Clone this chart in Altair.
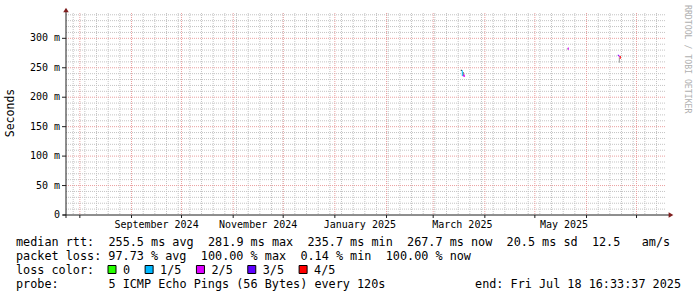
import re
import altair as alt
import pandas as pd

# ------------------------------------------------------------------ data
END = "2025-07-18T16:33:37"
SPAN_DAYS = 360

# smoke (spread of the ping round-trip times), one pixel column per step
smoke_time = ["2025-03-17T13:40:00", "2025-03-18T18:30:00", "2025-05-20T04:00:00", "2025-06-20T09:00:00"]
smoke_low = [244.5, 236.0, 281.0, 258.5]
smoke_high = [246.5, 243.0, 283.5, 267.5]
smoke_shade = ["#202020", "#6e6e6e", "#a8a8a8", "#9a9a9a"]

# median rtt, coloured by packet loss
median_time = ["2025-03-18T04:00:00", "2025-03-18T18:30:00", "2025-03-19T09:00:00",
               "2025-05-20T18:30:00",
               "2025-06-19T18:30:00", "2025-06-20T09:00:00", "2025-06-20T23:20:00"]
median_low = [236.0, 235.0, 234.5, 280.5, 270.0, 268.0, 265.5]
median_high = [246.0, 237.5, 238.5, 284.5, 272.0, 271.0, 270.0]
median_loss = ["1/5", "2/5", "2/5", "2/5", "3/5", "2/5", "4/5"]

loss_labels = ["0", "1/5", "2/5", "3/5", "4/5"]
loss_colors = ["#26ff00", "#00b8ff", "#dd00ff", "#5e00ff", "#ff0000"]

y_ticks = [0, 50, 100, 150, 200, 250, 300]
month_labels = ["2024-09-16T00:00:00", "2024-11-16T00:00:00", "2025-01-16T00:00:00",
                "2025-03-18T12:00:00", "2025-05-18T12:00:00"]

rtt_stats = ["255.5 ms avg", "281.9 ms max", "235.7 ms min", "267.7 ms now", "20.5 ms sd", "12.5   am/s"]
loss_stats = ["97.73 % avg", "100.00 % max", "0.14 % min", "100.00 % now"]
probe_text = "5 ICMP Echo Pings (56 Bytes) every 120s"
end_text = "end: Fri Jul 18 16:33:37 2025"
y_title = "Seconds"
watermark = "RRDTOOL / TOBI OETIKER"

# ------------------------------------------------------------------ layout
W, H = 600, 202
PAD = {"left": 66, "top": 13, "right": 31, "bottom": 82}
YMAX = 343
MONO = "DejaVu Sans Mono"
CHAR_W = 7.11
TEXT_X0 = 16 - PAD["left"]
ROW_Y0 = 241.5 - PAD["top"]
ROW_DY = 14
GRID = "#c4c4c4"
MGRID = "#eaa0a0"
AXIS = "#1f1f1f"
ARROW = "#7f1f1f"
FMT = "%Y-%m-%dT%H:%M:%S"

end_ts = pd.Timestamp(END)
start_ts = end_ts - pd.Timedelta(days=SPAN_DAYS)
step = pd.Timedelta(days=SPAN_DAYS) / W


def dt(t):
    return alt.DateTime(year=t.year, month=t.month, date=t.day,
                        hours=t.hour, minutes=t.minute, seconds=t.second)


x_scale = alt.Scale(domain=[dt(start_ts), dt(end_ts)])
y_scale = alt.Scale(domain=[0, YMAX], nice=False)


def X(f):
    return alt.X(f, type="temporal", scale=x_scale, axis=None)


def Y(f):
    return alt.Y(f, type="quantitative", scale=y_scale, axis=None)


def cells(times, lo, hi, extra_name, extra):
    t0 = pd.to_datetime(pd.Series(times))
    return pd.DataFrame({
        "t0": t0.dt.strftime(FMT),
        "t1": (t0 + step).dt.strftime(FMT),
        "lo": lo, "hi": hi, extra_name: extra,
    })


weeks = pd.date_range("2024-07-28", end_ts, freq="7D")
weeks = weeks[weeks > start_ts]
months = pd.date_range("2024-08-01", end_ts, freq="MS")
df_weeks = pd.DataFrame({"t": weeks.strftime(FMT)})
df_months = pd.DataFrame({"t": months.strftime(FMT)})
df_hminor = pd.DataFrame({"v": [v for v in range(10, YMAX, 10) if v % 50]})
df_hmajor = pd.DataFrame({"v": list(range(50, YMAX, 50))})
df_yt = pd.DataFrame({"v": y_ticks})
df_yt["lab"] = [("0" if v == 0 else f"{v} m") for v in y_ticks]
df_ml = pd.DataFrame({"t": month_labels})

one = pd.DataFrame({"a": [0]})

layers = []
# grid
layers.append(alt.Chart(df_weeks).mark_rule(color=GRID, strokeDash=[1, 1], strokeWidth=1)
              .encode(x=X("t"), y=alt.value(0), y2=alt.value(H)))
layers.append(alt.Chart(df_hminor).mark_rule(color=GRID, strokeDash=[1, 1], strokeWidth=1)
              .encode(y=Y("v"), x=alt.value(0), x2=alt.value(W)))
layers.append(alt.Chart(df_months).mark_rule(color=MGRID, strokeDash=[1, 1], strokeWidth=1)
              .encode(x=X("t"), y=alt.value(0), y2=alt.value(H)))
layers.append(alt.Chart(df_hmajor).mark_rule(color=MGRID, strokeDash=[1, 1], strokeWidth=1)
              .encode(y=Y("v"), x=alt.value(0), x2=alt.value(W)))

# data
layers.append(alt.Chart(cells(smoke_time, smoke_low, smoke_high, "shade", smoke_shade)).mark_rect()
              .encode(x=X("t0"), x2="t1:T", y=Y("lo"), y2="hi:Q",
                      color=alt.Color("shade:N", scale=None)))
layers.append(alt.Chart(cells(median_time, median_low, median_high, "loss", median_loss)).mark_rect()
              .encode(x=X("t0"), x2="t1:T", y=Y("lo"), y2="hi:Q",
                      color=alt.Color("loss:N", scale=alt.Scale(domain=loss_labels, range=loss_colors),
                                      legend=None)))

# axes
layers.append(alt.Chart(one).mark_rule(color=AXIS, strokeWidth=1)
              .encode(x=alt.value(0), y=alt.value(-4), y2=alt.value(H + 3)))
layers.append(alt.Chart(one).mark_rule(color=AXIS, strokeWidth=1)
              .encode(y=alt.value(H), x=alt.value(-3), x2=alt.value(W + 3)))
layers.append(alt.Chart(df_yt).mark_rule(color=AXIS, strokeWidth=1)
              .encode(y=Y("v"), x=alt.value(-4), x2=alt.value(0)))
layers.append(alt.Chart(df_months).mark_rule(color=AXIS, strokeWidth=1)
              .encode(x=X("t"), y=alt.value(H), y2=alt.value(H + 3)))
layers.append(alt.Chart(one).mark_point(shape="triangle-right", filled=True, size=30, color=ARROW, opacity=1)
              .encode(x=alt.value(W + 5), y=alt.value(H)))
layers.append(alt.Chart(one).mark_point(shape="triangle-up", filled=True, size=30, color=ARROW, opacity=1)
              .encode(x=alt.value(0), y=alt.value(-3)))

# tick labels
layers.append(alt.Chart(df_yt).mark_text(font=MONO, fontSize=10, align="right", baseline="middle", color="#000")
              .encode(y=Y("v"), x=alt.value(-6), text="lab:N"))
layers.append(alt.Chart(df_ml).mark_text(font=MONO, fontSize=10, align="center", baseline="middle", color="#000")
              .encode(x=X("t"), y=alt.value(H + 10), text=alt.Text("t:T", format="%B %Y")))

# titles
layers.append(alt.Chart(one).mark_text(font=MONO, fontSize=11.5, angle=270, align="center",
                                       baseline="middle", color="#000", text=y_title)
              .encode(x=alt.value(11 - PAD["left"]), y=alt.value(113 - PAD["top"])))
layers.append(alt.Chart(one).mark_text(font=MONO, fontSize=8.2, angle=90, align="left",
                                       baseline="middle", color="#b0b0b0", text=watermark)
              .encode(x=alt.value(687 - PAD["left"]), y=alt.value(5 - PAD["top"])))

# bottom legend text, one item per run of words (keeps monospace columns)
lines = [
    "median rtt:  " + "  ".join(rtt_stats),
    "packet loss: " + "  ".join(loss_stats),
    "loss color:",
    "probe:       " + probe_text,
]
rows = []
for i, line in enumerate(lines):
    for m in re.finditer(r"\S+(?: \S+)*", line):
        rows.append({"txt": m.group(0), "px": TEXT_X0 + m.start() * CHAR_W, "py": ROW_Y0 + i * ROW_DY})
df_txt = pd.DataFrame(rows)
layers.append(alt.Chart(df_txt).mark_text(font=MONO, fontSize=11.8, align="left", baseline="middle", color="#000")
              .encode(x=alt.X("px:Q", scale=None), y=alt.Y("py:Q", scale=None), text="txt:N"))
layers.append(alt.Chart(one).mark_text(font=MONO, fontSize=11.8, align="right", baseline="middle",
                                       color="#000", text=end_text)
              .encode(x=alt.value(681 - PAD["left"]), y=alt.value(ROW_Y0 + 3 * ROW_DY)))

# loss colour legend
bx, tx = [], []
x = 108 - PAD["left"]
for lab in loss_labels:
    bx.append(x)
    tx.append(x + 15)
    x = x + 15.5 + len(lab) * CHAR_W + 14.5
df_leg = pd.DataFrame({"lab": loss_labels, "col": loss_colors, "bx": bx, "tx": tx})
df_leg["bx2"] = df_leg["bx"] + 8
df_leg["by"] = ROW_Y0 + 2 * ROW_DY - 4
df_leg["by2"] = ROW_Y0 + 2 * ROW_DY + 4
layers.append(alt.Chart(df_leg).mark_rect(stroke="#000", strokeWidth=1)
              .encode(x=alt.X("bx:Q", scale=None), x2="bx2:Q",
                      y=alt.Y("by:Q", scale=None), y2="by2:Q",
                      color=alt.Color("col:N", scale=None)))
layers.append(alt.Chart(df_leg).mark_text(font=MONO, fontSize=11.8, align="left", baseline="middle", color="#000")
              .encode(x=alt.X("tx:Q", scale=None), y=alt.value(ROW_Y0 + 2 * ROW_DY), text="lab:N"))

chart = alt.layer(*layers).properties(
    width=W, height=H, padding=PAD, autosize=alt.AutoSizeParams(type="none"), background="white"
).configure_view(stroke=None)

chart.save("out.html", embed_options={"renderer": "svg", "actions": False})
